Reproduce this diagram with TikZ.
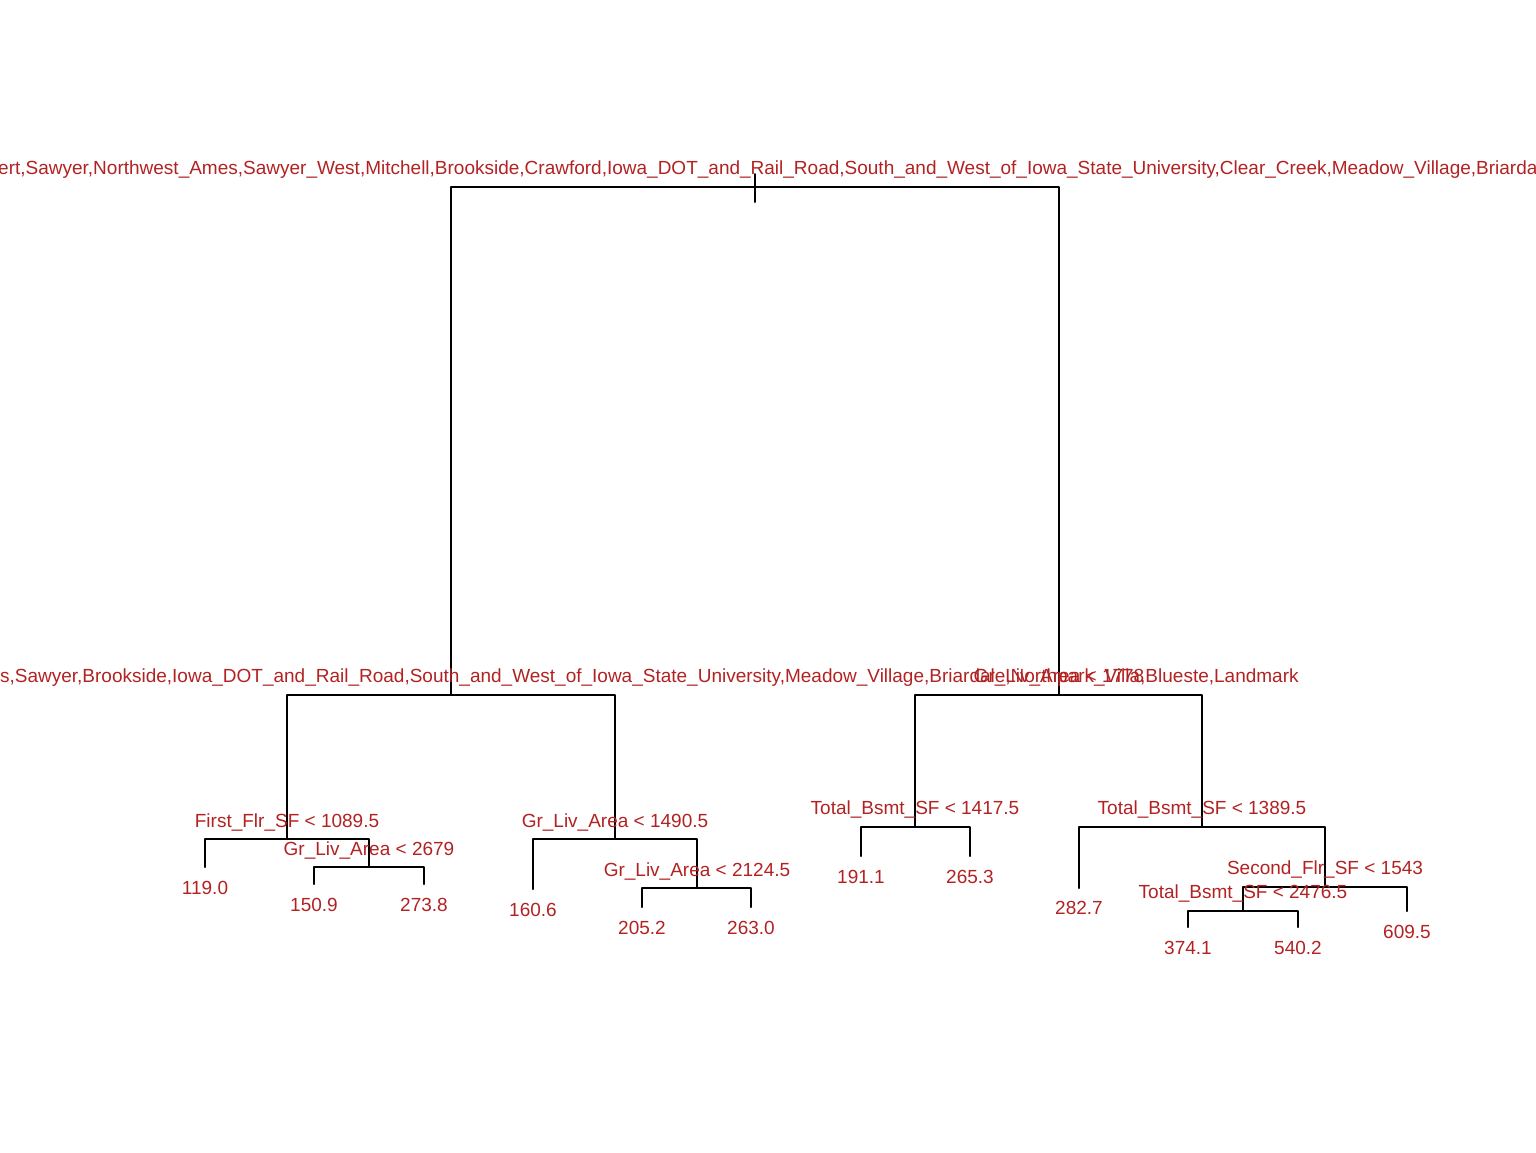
\documentclass[tikz,border=0pt]{standalone}
\usepackage{fontspec}
\setmainfont{Liberation Sans}
\definecolor{labred}{RGB}{178,34,34}
\begin{document}
\begin{tikzpicture}[x=1pt,y=-1pt,
  edge/.style={line width=2pt, black, line cap=round, line join=round},
  lab/.style={text=labred, font=\fontsize{19}{22}\selectfont, inner sep=0pt, anchor=base},
]
\useasboundingbox (0,0) rectangle (1536,1152);
\clip (0,0) rectangle (1536,1152);
% tree node positions
\coordinate (rtop) at (755,174);
\coordinate (rbot) at (755,202);
\coordinate (r) at (755,187);
\coordinate (A) at (451,695);
\coordinate (B) at (1059,695);
\coordinate (A1) at (287,839);
\coordinate (A2) at (615,839);
\coordinate (A1L) at (205,867);
\coordinate (A1R) at (369,867);
\coordinate (A1RL) at (314,884);
\coordinate (A1RR) at (424,884);
\coordinate (A2L) at (533,889);
\coordinate (A2R) at (697,888);
\coordinate (A2RL) at (642,907);
\coordinate (A2RR) at (751,907);
\coordinate (B1) at (915,827);
\coordinate (B1L) at (861,856);
\coordinate (B1R) at (970,856);
\coordinate (B2) at (1202,827);
\coordinate (B2L) at (1079,888);
\coordinate (B2R) at (1325,887);
\coordinate (B2RL) at (1243,911);
\coordinate (B2RR) at (1407,911);
\coordinate (B2RLL) at (1188,927);
\coordinate (B2RLR) at (1298,927);
% branches
\draw[edge] (rtop) -- (rbot);
\draw[edge] (r) -| (A);
\draw[edge] (r) -| (B);
\draw[edge] (A) -| (A1);
\draw[edge] (A) -| (A2);
\draw[edge] (A1) -| (A1L);
\draw[edge] (A1) -| (A1R);
\draw[edge] (A1R) -| (A1RL);
\draw[edge] (A1R) -| (A1RR);
\draw[edge] (A2) -| (A2L);
\draw[edge] (A2) -| (A2R);
\draw[edge] (A2R) -| (A2RL);
\draw[edge] (A2R) -| (A2RR);
\draw[edge] (B) -| (B1);
\draw[edge] (B) -| (B2);
\draw[edge] (B1) -| (B1L);
\draw[edge] (B1) -| (B1R);
\draw[edge] (B2) -| (B2L);
\draw[edge] (B2) -| (B2R);
\draw[edge] (B2R) -| (B2RL);
\draw[edge] (B2R) -| (B2RR);
\draw[edge] (B2RL) -| (B2RLL);
\draw[edge] (B2RL) -| (B2RLR);
% split labels
\node[lab, anchor=base west] (troot) at (-2,174) {ert,Sawyer,Northwest\_Ames,Sawyer\_West,Mitchell,Brookside,Crawford,Iowa\_DOT\_and\_Rail\_Road,South\_and\_West\_of\_Iowa\_State\_University,Clear\_Creek,Meadow\_Village,Briardale};
\node[lab, anchor=base east] (tA) at (1299,682) {s,Sawyer,Brookside,Iowa\_DOT\_and\_Rail\_Road,South\_and\_West\_of\_Iowa\_State\_University,Meadow\_Village,Briardale,Northpark\_Villa,Blueste,Landmark};
\node[lab] (tB) at (1059,682) {Gr\_Liv\_Area < 1778};
\node[lab] (tA1) at (287,827) {First\_Flr\_SF < 1089.5};
\node[lab] (tA1R) at (369,855) {Gr\_Liv\_Area < 2679};
\node[lab] (tA2) at (615,827) {Gr\_Liv\_Area < 1490.5};
\node[lab] (tA2R) at (697,876) {Gr\_Liv\_Area < 2124.5};
\node[lab] (tB1) at (915,814) {Total\_Bsmt\_SF < 1417.5};
\node[lab] (tB2) at (1202,814) {Total\_Bsmt\_SF < 1389.5};
\node[lab] (tB2R) at (1325,874) {Second\_Flr\_SF < 1543};
\node[lab] (tB2RL) at (1243,898) {Total\_Bsmt\_SF < 2476.5};
% leaf values
\node[lab] (lA1L) at (205,894) {119.0};
\node[lab] (lA1RL) at (314,911) {150.9};
\node[lab] (lA1RR) at (424,911) {273.8};
\node[lab] (lA2L) at (533,916) {160.6};
\node[lab] (lA2RL) at (642,934) {205.2};
\node[lab] (lA2RR) at (751,934) {263.0};
\node[lab] (lB1L) at (861,883) {191.1};
\node[lab] (lB1R) at (970,883) {265.3};
\node[lab] (lB2L) at (1079,914) {282.7};
\node[lab] (lB2RR) at (1407,938) {609.5};
\node[lab] (lB2RLL) at (1188,954) {374.1};
\node[lab] (lB2RLR) at (1298,954) {540.2};
\end{tikzpicture}
\end{document}
